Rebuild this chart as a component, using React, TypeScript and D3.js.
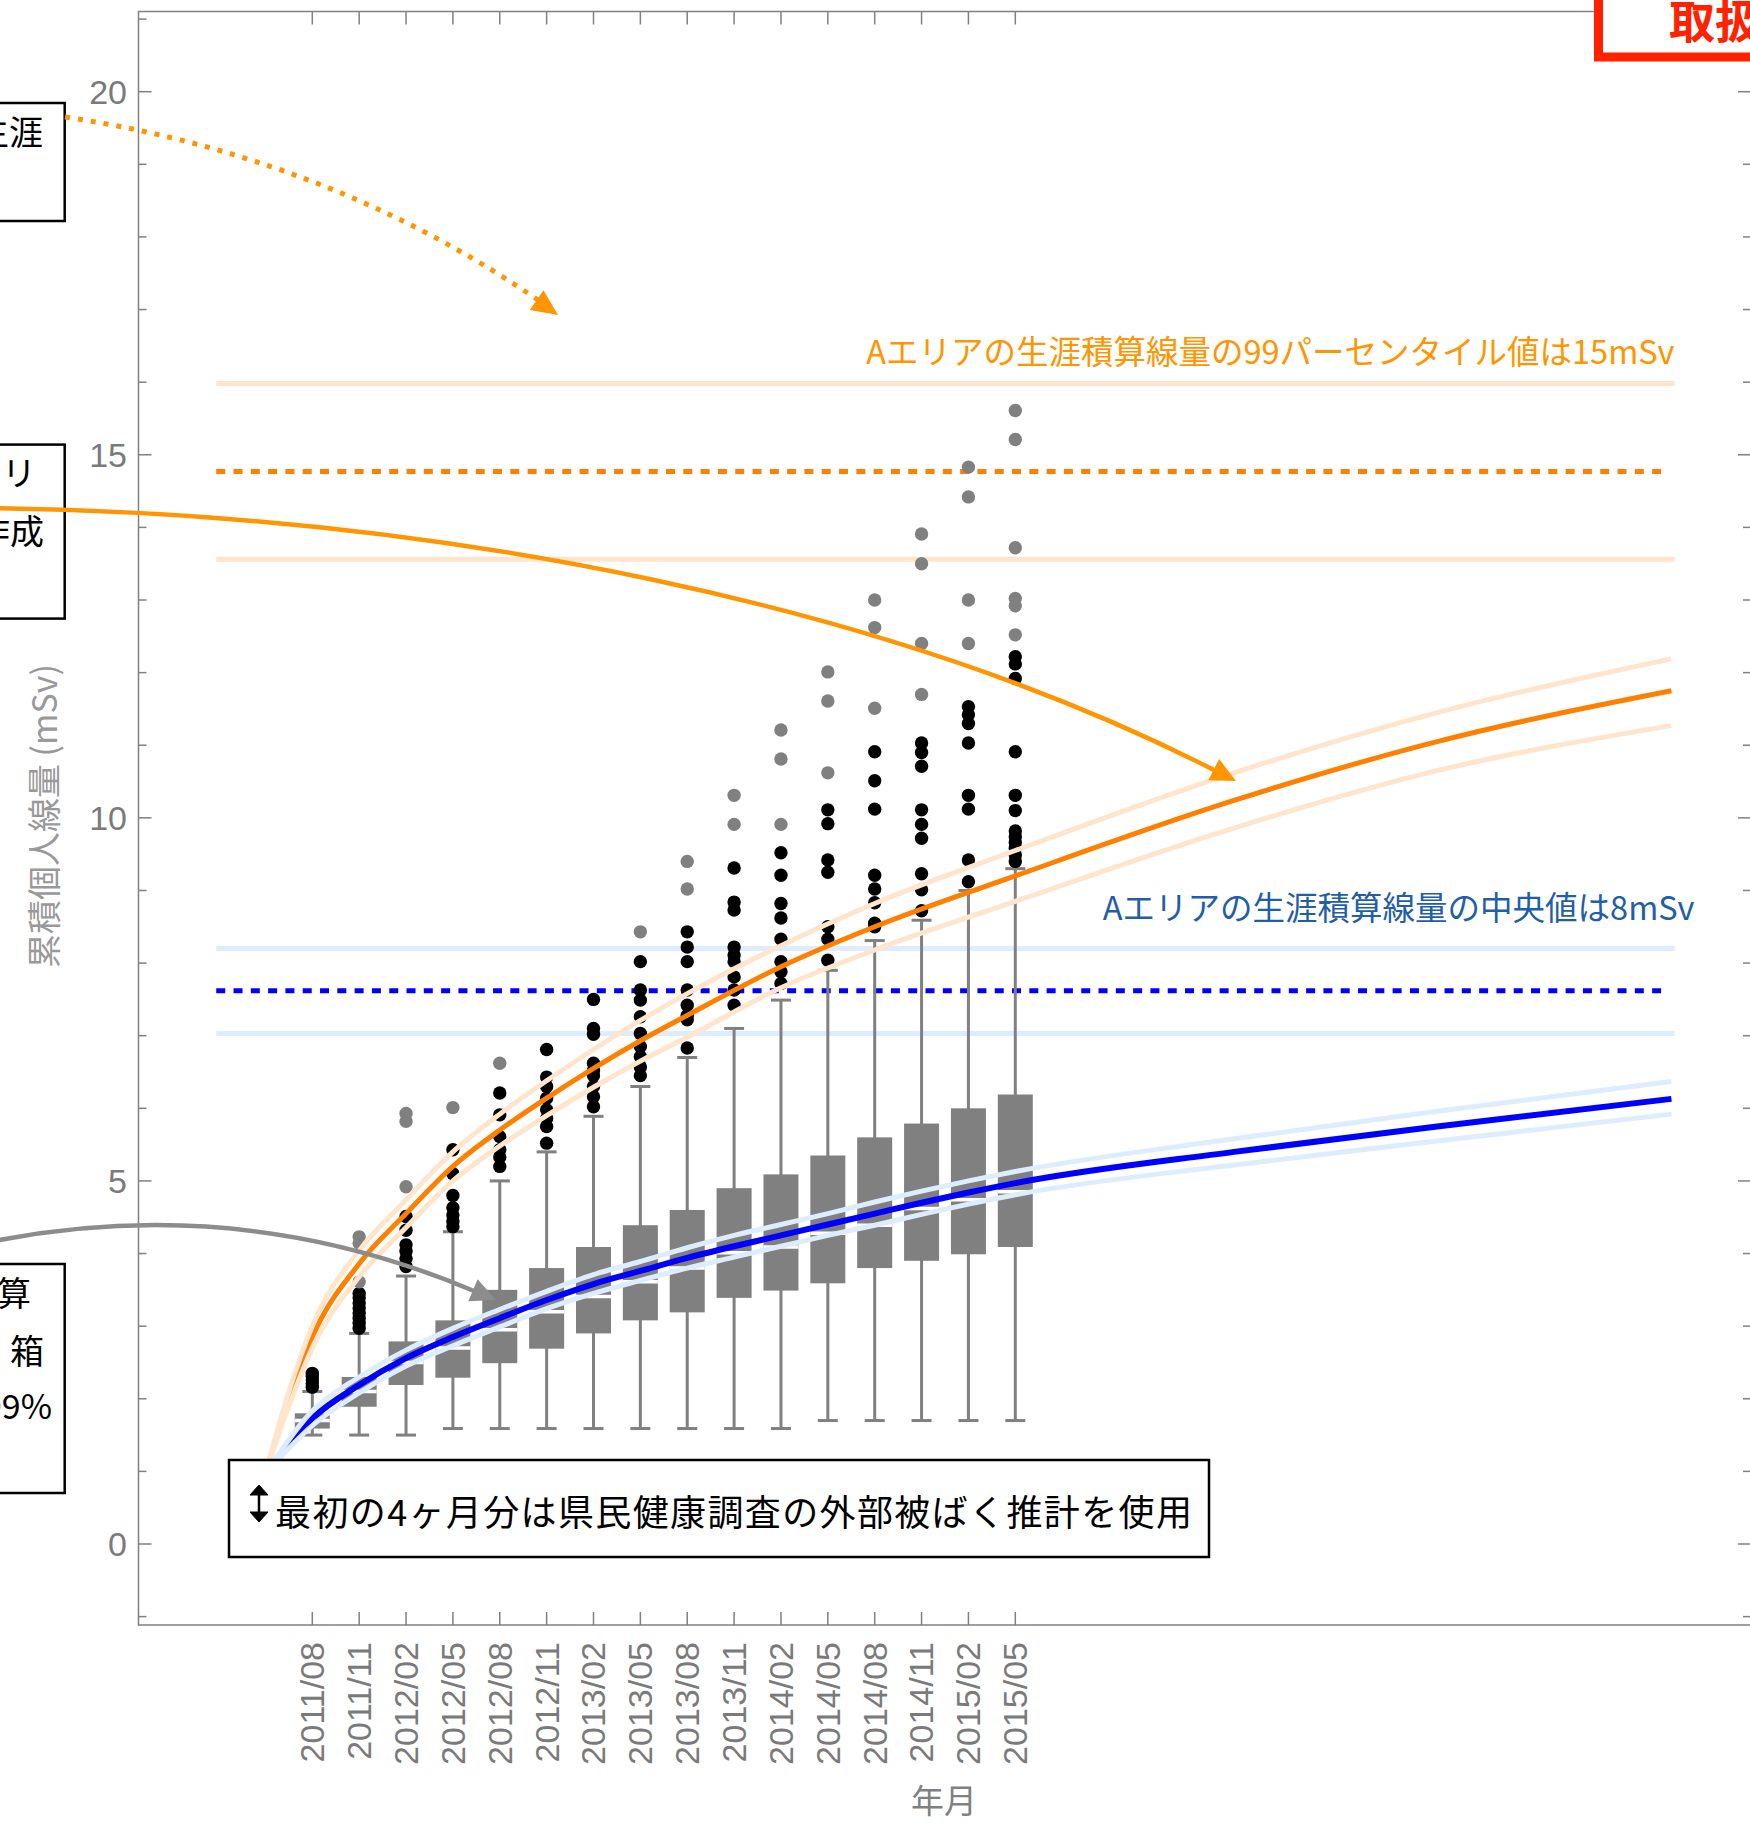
import * as d3 from "d3";

// quarterly survey months, x position = months since 2011/03
const categories = ["2011/08", "2011/11", "2012/02", "2012/05", "2012/08", "2012/11", "2013/02", "2013/05",
  "2013/08", "2013/11", "2014/02", "2014/05", "2014/08", "2014/11", "2015/02", "2015/05"];
const categoryMonth = [5, 8, 11, 14, 17, 20, 23, 26, 29, 32, 35, 38, 41, 44, 47, 50];

// box-whisker values (mSv)
const whiskerLow = [1.50, 1.50, 1.50, 1.59, 1.59, 1.59, 1.59, 1.59, 1.59, 1.59, 1.59, 1.70, 1.70, 1.70, 1.70, 1.70];
const q1 = [1.59, 1.89, 2.19, 2.29, 2.49, 2.69, 2.90, 3.08, 3.19, 3.39, 3.49, 3.59, 3.80, 3.90, 3.99, 4.09];
const median = [1.70, 2.10, 2.50, 2.70, 2.95, 3.20, 3.41, 3.61, 3.80, 4.01, 4.09, 4.28, 4.39, 4.62, 4.74, 4.85];
const q3 = [1.80, 2.30, 2.79, 3.08, 3.50, 3.80, 4.09, 4.39, 4.60, 4.90, 5.09, 5.35, 5.60, 5.79, 6.00, 6.19];
const whiskerHigh = [2.10, 2.90, 3.69, 4.30, 5.00, 5.40, 5.89, 6.30, 6.70, 7.10, 7.49, 7.90, 8.31, 8.59, 9.00, 9.30];

const nearOutliers = [
  [2.16, 2.21, 2.26, 2.31, 2.35],
  [2.97, 3.04, 3.11, 3.18, 3.25, 3.32, 3.39, 3.45],
  [3.82, 3.93, 4.03, 4.12, 4.32, 4.51],
  [4.37, 4.44, 4.53, 4.63, 4.80, 5.10, 5.43],
  [5.20, 5.33, 5.43, 5.61, 5.91, 6.21],
  [5.52, 5.75, 5.86, 5.98, 6.14, 6.30, 6.43, 6.81],
  [6.02, 6.16, 6.30, 6.45, 6.52, 6.62, 7.02, 7.10, 7.50],
  [6.45, 6.57, 6.71, 6.85, 7.03, 7.26, 7.49, 7.63, 8.02],
  [6.83, 7.22, 7.28, 7.42, 7.63, 8.02, 8.22, 8.43],
  [7.42, 7.63, 7.81, 8.02, 8.11, 8.22, 8.73, 8.84, 9.31],
  [7.72, 7.88, 8.02, 8.33, 8.62, 8.82, 9.21, 9.52],
  [8.04, 8.33, 8.50, 9.25, 9.42, 9.92, 10.11],
  [8.50, 8.55, 8.83, 9.02, 9.21, 10.12, 10.51, 10.91],
  [8.72, 9.01, 9.23, 9.72, 9.91, 10.11, 10.71, 10.90, 11.03],
  [9.12, 9.42, 10.12, 10.31, 11.03, 11.30, 11.42, 11.53],
  [9.40, 9.49, 9.58, 9.66, 9.74, 9.82, 10.10, 10.31, 10.91, 11.92, 12.12, 12.22],
];
const farOutliers = [
  [],
  [3.61, 4.14, 4.23],
  [4.92, 5.82, 5.93],
  [6.01],
  [6.62],
  [],
  [],
  [8.43],
  [9.02, 9.40],
  [9.91, 10.31],
  [9.91, 10.81, 11.21],
  [10.62, 11.61, 12.01],
  [11.51, 12.62, 13.00],
  [11.70, 12.40, 13.50, 13.91],
  [12.40, 13.00, 14.42, 14.83],
  [12.52, 12.92, 13.02, 13.72, 15.21, 15.61],
];

// lifetime estimate curves, 99th percentile (orange) and median (blue)
const orangeMonths = [2, 3.5, 5, 8, 11, 14, 17, 20, 23, 26, 29, 35, 41, 50, 64, 77, 92];
const orangeMid = [0.97, 2.0, 2.85, 3.86, 4.55, 5.20, 5.70, 6.14, 6.55, 6.93, 7.28, 7.95, 8.50, 9.20, 10.24, 11.05, 11.75];
const orangeHi = [0.97, 2.1, 3.0, 4.04, 4.74, 5.40, 5.92, 6.38, 6.81, 7.21, 7.58, 8.24, 8.82, 9.55, 10.62, 11.45, 12.19];
const orangeLo = [0.97, 1.9, 2.7, 3.68, 4.36, 5.00, 5.48, 5.90, 6.29, 6.65, 6.98, 7.66, 8.18, 8.85, 9.86, 10.65, 11.27];

const blueMonths = [2, 5, 8, 11, 14, 17, 20, 23, 26, 29, 32, 35, 38, 41, 44, 47, 50, 64, 77, 92];
const blueMid = [0.97, 1.73, 2.19, 2.56, 2.85, 3.11, 3.36, 3.58, 3.76, 3.94, 4.10, 4.25, 4.40, 4.55, 4.70, 4.84, 4.97, 5.40, 5.75, 6.13];
const blueHi = [0.97, 1.83, 2.30, 2.67, 2.97, 3.23, 3.48, 3.71, 3.89, 4.08, 4.25, 4.40, 4.55, 4.71, 4.86, 5.00, 5.13, 5.58, 5.96, 6.37];
const blueLo = [0.97, 1.63, 2.08, 2.45, 2.73, 2.99, 3.24, 3.45, 3.63, 3.80, 3.95, 4.10, 4.25, 4.39, 4.54, 4.68, 4.81, 5.22, 5.55, 5.92];

// area-A lifetime reference levels: [lower, centre, upper]
const orangeLevel = [13.56, 14.77, 15.98];
const blueLevel = [7.03, 7.62, 8.20];
const levelSpan = [-1.15, 92.2];

const yMajor = [0, 5, 10, 15, 20];
const yMinor = d3.range(-1, 22);

const ORANGE = "#ff8000";
const ORANGE_ARROW = "#ff9500";
const ORANGE_LIGHT = "#ffe5cc";
const BLUE = "#0000ff";
const BLUE_LIGHT = "#ddedff";
const GRAY = "#808080";
const AXIS = "#7a7a7a";
const JP = "'Noto Sans CJK JP', 'Noto Sans', sans-serif";
const LAT = "'Liberation Sans', Arial, sans-serif";

const W = 1750;
const H = 1824;
const frame = { left: 138.5, right: 1751, top: 11.5, bottom: 1625 };

const x = d3.scaleLinear().domain([5, 50]).range([312.3, 1015.3]);
const y = d3.scaleLinear().domain([0, 20]).range([1544, 91.7]);

const curve = d3.line<[number, number]>()
  .x(d => x(d[0]))
  .y(d => y(d[1]))
  .curve(d3.curveMonotoneX);

function series(ms: number[], vs: number[]): [number, number][] {
  return ms.map((m, i) => [m, vs[i]] as [number, number]);
}

function arrowHead(tip: [number, number], from: [number, number], len: number, half: number) {
  const dx = tip[0] - from[0], dy = tip[1] - from[1];
  const n = Math.hypot(dx, dy);
  const ux = dx / n, uy = dy / n;
  const bx = tip[0] - ux * len, by = tip[1] - uy * len;
  return `M${tip[0]},${tip[1]}L${bx - uy * half},${by + ux * half}L${bx + uy * half},${by - ux * half}Z`;
}

function cubic(p0: number[], p1: number[], p2: number[], p3: number[]) {
  const p = d3.path();
  p.moveTo(p0[0], p0[1]);
  p.bezierCurveTo(p1[0], p1[1], p2[0], p2[1], p3[0], p3[1]);
  return p.toString();
}

function quad(p0: number[], c: number[], p3: number[]) {
  const p = d3.path();
  p.moveTo(p0[0], p0[1]);
  p.quadraticCurveTo(c[0], c[1], p3[0], p3[1]);
  return p.toString();
}

// annotation arrows coming from the (cropped) text boxes on the left
const dottedArrow = { p0: [65, 117], p1: [265, 147], p2: [420, 219], tip: [558, 315] as [number, number] };
const solidArrow = { p0: [-40, 508], p1: [450, 510], p2: [900, 610], tip: [1236, 781] as [number, number] };
const grayArrow = { p0: [-120, 1271], c: [188, 1170], tip: [496, 1300] as [number, number] };

function BoxPlot() {
  const bw = 35;
  const cap = 20;
  return (
    <g>
      {categoryMonth.map((m, i) => {
        const cx = x(m);
        return (
          <g key={categories[i]}>
            <line x1={cx} x2={cx} y1={y(whiskerLow[i])} y2={y(whiskerHigh[i])} stroke={GRAY} strokeWidth={3} />
            <line x1={cx - cap / 2} x2={cx + cap / 2} y1={y(whiskerLow[i])} y2={y(whiskerLow[i])} stroke={GRAY} strokeWidth={3} />
            <line x1={cx - cap / 2} x2={cx + cap / 2} y1={y(whiskerHigh[i])} y2={y(whiskerHigh[i])} stroke={GRAY} strokeWidth={3} />
            <rect x={cx - bw / 2} width={bw} y={y(q3[i])} height={y(q1[i]) - y(q3[i])} fill={GRAY} />
            <line x1={cx - bw / 2} x2={cx + bw / 2} y1={y(median[i])} y2={y(median[i])} stroke="#fff" strokeWidth={3.5} />
            {nearOutliers[i].map((v, j) => (
              <circle key={"n" + j} cx={cx} cy={y(v)} r={6.7} fill="#000" />
            ))}
            {farOutliers[i].map((v, j) => (
              <circle key={"f" + j} cx={cx} cy={y(v)} r={6.7} fill={GRAY} />
            ))}
          </g>
        );
      })}
    </g>
  );
}

function Axes() {
  return (
    <g>
      <rect x={frame.left} y={frame.top} width={frame.right - frame.left} height={frame.bottom - frame.top}
        fill="none" stroke={GRAY} strokeWidth={1.5} />
      {yMinor.map(v => {
        const len = yMajor.includes(v) ? 13 : 8;
        return (
          <g key={"yt" + v}>
            <line x1={frame.left} x2={frame.left + len} y1={y(v)} y2={y(v)} stroke={GRAY} strokeWidth={1.5} />
            <line x1={frame.right - len} x2={frame.right} y1={y(v)} y2={y(v)} stroke={GRAY} strokeWidth={1.5} />
          </g>
        );
      })}
      {yMajor.map(v => (
        <text key={"yl" + v} x={127} y={y(v)} dy="0.35em" textAnchor="end" fontFamily={LAT} fontSize={34} fill={AXIS}>
          {v}
        </text>
      ))}
      {categoryMonth.map((m, i) => (
        <g key={"xt" + i}>
          <line x1={x(m)} x2={x(m)} y1={frame.bottom} y2={frame.bottom - 13} stroke={GRAY} strokeWidth={1.5} />
          <line x1={x(m)} x2={x(m)} y1={frame.top} y2={frame.top + 13} stroke={GRAY} strokeWidth={1.5} />
          <text transform={`translate(${x(m)},1642) rotate(-90)`} dy="0.35em" textAnchor="end"
            fontFamily={LAT} fontSize={34} fill={AXIS}>
            {categories[i]}
          </text>
        </g>
      ))}
      <text x={944} y={1813} textAnchor="middle" fontFamily={JP} fontSize={33} fill={GRAY}>年月</text>
      <text transform="translate(45,816) rotate(-90)" dy="0.35em" textAnchor="middle" fontFamily={JP}
        fontSize={34} fill="#999">累積個人線量 (mSv)</text>
    </g>
  );
}

function Levels() {
  const x0 = x(levelSpan[0]);
  const x1 = x(levelSpan[1]);
  const xd = x(91.5);
  const band = (lv: number[], light: string, dark: string) => (
    <g>
      <line x1={x0} x2={x1} y1={y(lv[0])} y2={y(lv[0])} stroke={light} strokeWidth={5} />
      <line x1={x0} x2={x1} y1={y(lv[2])} y2={y(lv[2])} stroke={light} strokeWidth={5} />
      <line x1={x0} x2={xd} y1={y(lv[1])} y2={y(lv[1])} stroke={dark} strokeWidth={5} strokeDasharray="9 8.3" />
    </g>
  );
  return (
    <g>
      {band(orangeLevel, ORANGE_LIGHT, ORANGE)}
      {band(blueLevel, BLUE_LIGHT, BLUE)}
      <text x={x1} y={y(orangeLevel[2]) - 20} textAnchor="end" fontFamily={JP} fontSize={32.5} fill={ORANGE_ARROW}>
        Aエリアの生涯積算線量の99パーセンタイル値は15mSv
      </text>
      <text x={x1 + 20} y={y(blueLevel[2]) - 29} textAnchor="end" fontFamily={JP} fontSize={32.5} fill="#1f5ea8">
        Aエリアの生涯積算線量の中央値は8mSv
      </text>
    </g>
  );
}

function Curves() {
  return (
    <g fill="none" strokeLinecap="butt">
      <path d={curve(series(orangeMonths, orangeMid)) ?? ""} stroke={ORANGE} strokeWidth={5} />
      <path d={curve(series(blueMonths, blueMid)) ?? ""} stroke={BLUE} strokeWidth={6} />
      <path d={curve(series(orangeMonths, orangeHi)) ?? ""} stroke={ORANGE_LIGHT} strokeWidth={5} />
      <path d={curve(series(orangeMonths, orangeLo)) ?? ""} stroke={ORANGE_LIGHT} strokeWidth={5} />
      <path d={curve(series(blueMonths, blueHi)) ?? ""} stroke={BLUE_LIGHT} strokeWidth={5} />
      <path d={curve(series(blueMonths, blueLo)) ?? ""} stroke={BLUE_LIGHT} strokeWidth={5} />
    </g>
  );
}

function Annotations() {
  const boxStyle = { fill: "#fff", stroke: "#000", strokeWidth: 2.5 };
  return (
    <g>
      {/* cropped explanation boxes on the left */}
      <rect x={-200} y={103} width={264.7} height={118} {...boxStyle} />
      <text x={43} y={145} textAnchor="end" fontFamily={JP} fontSize={34}>生涯</text>
      <rect x={-200} y={444.6} width={264.7} height={174} {...boxStyle} />
      <text x={36} y={486} textAnchor="end" fontFamily={JP} fontSize={34}>リ</text>
      <text x={44} y={544} textAnchor="end" fontFamily={JP} fontSize={34}>作成</text>
      <rect x={-200} y={1264} width={264.7} height={229} {...boxStyle} />
      <text x={31} y={1306} textAnchor="end" fontFamily={JP} fontSize={34}>積算</text>
      <text x={44} y={1364} textAnchor="end" fontFamily={JP} fontSize={34}>箱</text>
      <text x={52} y={1419} textAnchor="end" fontFamily={JP} fontSize={34}>99%</text>

      {/* arrows */}
      <path d={cubic(dottedArrow.p0, dottedArrow.p1, dottedArrow.p2, [538, 300])} fill="none"
        stroke={ORANGE_ARROW} strokeWidth={5} strokeDasharray="5 8" />
      <path d={arrowHead(dottedArrow.tip, dottedArrow.p2 as [number, number], 26, 12)} fill={ORANGE_ARROW} />
      <path d={cubic(solidArrow.p0, solidArrow.p1, solidArrow.p2, [1214, 770])} fill="none"
        stroke={ORANGE_ARROW} strokeWidth={4.5} />
      <path d={arrowHead(solidArrow.tip, solidArrow.p2 as [number, number], 25, 12)} fill={ORANGE_ARROW} />
      <path d={quad(grayArrow.p0, grayArrow.c, [474, 1291])} fill="none" stroke="#8c8c8c" strokeWidth={4.5} />
      <path d={arrowHead(grayArrow.tip, grayArrow.c as [number, number], 25, 12)} fill="#8c8c8c" />

      {/* note box */}
      <rect x={229} y={1460} width={980} height={97} {...boxStyle} />
      <g stroke="#000" fill="#000">
        <line x1={259} x2={259} y1={1492} y2={1516} strokeWidth={2.5} />
        <path d="M250,1495L259,1485L268,1495Z" strokeWidth={1} />
        <path d="M250,1512L259,1522L268,1512Z" strokeWidth={1} />
      </g>
      <text x={275} y={1526} fontFamily={JP} fontSize={36} textLength={917} lengthAdjust="spacing">
        最初の4ヶ月分は県民健康調査の外部被ばく推計を使用
      </text>

      {/* stamp at top right */}
      <rect x={1598.5} y={-20} width={300} height={77} fill="#fff" stroke="#ff2200" strokeWidth={9} />
      <text x={1669} y={38} fontFamily={JP} fontSize={46} fontWeight={700} fill="#ff2200">取扱</text>
    </g>
  );
}

export default function App() {
  return (
    <svg width={W} height={H} viewBox={`0 0 ${W} ${H}`}
      style={{ position: "absolute", left: 0, top: 0, display: "block", background: "#fff" }}>
      <rect width={W} height={H} fill="#fff" />
      <Levels />
      <BoxPlot />
      <Curves />
      <Axes />
      <Annotations />
    </svg>
  );
}
